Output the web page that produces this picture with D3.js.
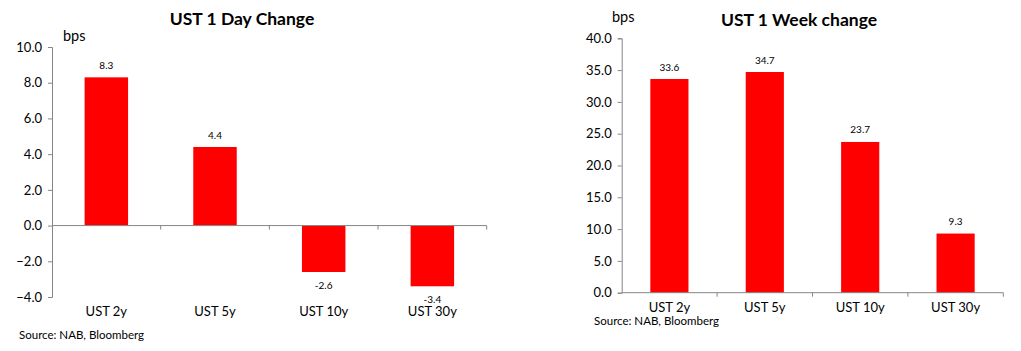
<!DOCTYPE html>
<html><head><meta charset="utf-8">
<script src="https://cdn.jsdelivr.net/npm/d3@7"></script>
<style>body{margin:0;background:#fff}svg{display:block}text{font-family:Lato,"Open Sans",sans-serif}</style>
</head><body>
<svg id="c" width="1021" height="351"></svg>
<script>
const categories = ["UST 2y", "UST 5y", "UST 10y", "UST 30y"];
const dayValues = [8.3, 4.4, -2.6, -3.4];
const weekValues = [33.6, 34.7, 23.7, 9.3];
const dayTicks = [10, 8, 6, 4, 2, 0, -2, -4];
const weekTicks = [40, 35, 30, 25, 20, 15, 10, 5, 0];
const titles = ["UST 1 Day Change", "UST 1 Week change"];
const unit = "bps";
const source = "Source: NAB, Bloomberg";

const svg = d3.select("#c");
const axisColor = "#868686";

function drawChart(o) {
  const g = svg.append("g");
  const x = d3.scaleBand().domain(categories).range([o.x0, o.x1]).paddingInner(0.6).paddingOuter(0.3);
  const xb = d3.scaleBand().domain(categories).range([o.x0, o.x1]);
  const y = d3.scaleLinear().domain(o.domain).range([o.yb, o.yt]);
  // y axis
  const ya = d3.axisLeft(y).tickValues(o.ticks).tickSize(4).tickFormat(d3.format(".1f"));
  const yg = g.append("g").attr("transform", `translate(${o.x0},0)`).call(ya);
  yg.select(".domain").attr("stroke", axisColor);
  yg.selectAll(".tick line").attr("stroke", axisColor);
  yg.selectAll(".tick text").attr("font-size", 13).attr("fill", "#000").attr("x", -10);
  // bars
  g.selectAll("rect").data(o.values).join("rect")
    .attr("x", (d, i) => x(categories[i]))
    .attr("width", x.bandwidth())
    .attr("y", d => y(Math.max(0, d)))
    .attr("height", d => Math.abs(y(d) - y(0)))
    .attr("fill", "#ff0000");
  // x axis line at zero
  g.append("line").attr("x1", o.x0).attr("x2", o.x1).attr("y1", y(0)).attr("y2", y(0)).attr("stroke", axisColor);
  g.selectAll(".xt").data(categories).join("line").attr("class", "xt")
    .attr("x1", d => xb(d) + xb.bandwidth()).attr("x2", d => xb(d) + xb.bandwidth())
    .attr("y1", y(0)).attr("y2", y(0) + 4).attr("stroke", axisColor);
  // category labels
  g.selectAll(".cl").data(categories).join("text").attr("class", "cl")
    .attr("x", d => xb(d) + xb.bandwidth() / 2).attr("y", o.catY)
    .attr("text-anchor", "middle").attr("dominant-baseline", "middle")
    .attr("font-size", 13).text(d => d);
  // value labels
  g.selectAll(".vl").data(o.values).join("text").attr("class", "vl")
    .attr("x", (d, i) => x(categories[i]) + x.bandwidth() / 2)
    .attr("y", d => d >= 0 ? y(d) - 11 : y(d) + 14)
    .attr("text-anchor", "middle").attr("dominant-baseline", "middle")
    .attr("font-size", 10).text(d => d.toFixed(1));
  // title
  g.append("text").attr("x", o.titleX).attr("y", o.titleY).attr("text-anchor", "middle")
    .attr("dominant-baseline", "middle").attr("font-weight", "bold").attr("font-size", 17.5).text(o.title);
  g.append("text").attr("x", o.bpsX).attr("y", o.bpsY).attr("dominant-baseline", "middle")
    .attr("font-size", 14.5).text(unit);
  g.append("text").attr("x", o.srcX).attr("y", o.srcY).attr("dominant-baseline", "middle")
    .attr("font-size", 11.5).text(source);
}

drawChart({x0: 52, x1: 486.7, yt: 47, yb: 297, domain: [-4, 10], ticks: dayTicks, values: dayValues,
  catY: 313, title: titles[0], titleX: 242, titleY: 21, bpsX: 63, bpsY: 37, srcX: 19, srcY: 336});
drawChart({x0: 621.7, x1: 1003.3, yt: 38.3, yb: 292.7, domain: [0, 40], ticks: weekTicks, values: weekValues,
  catY: 309, title: titles[1], titleX: 799, titleY: 22, bpsX: 612, bpsY: 18.5, srcX: 594, srcY: 322.5});
</script>
</body></html>
